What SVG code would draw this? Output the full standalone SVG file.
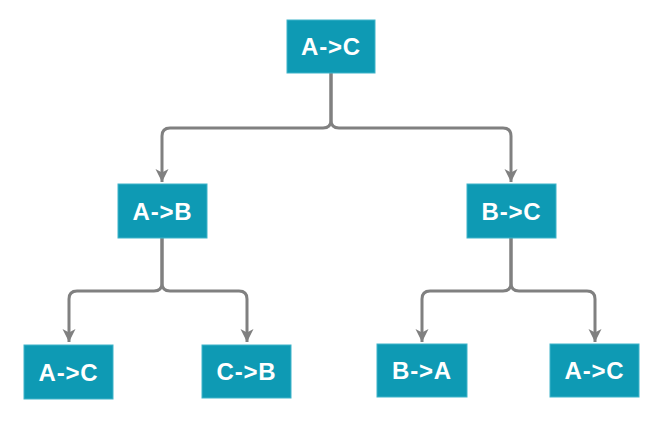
<svg xmlns="http://www.w3.org/2000/svg" width="661" height="427" viewBox="0 0 661 427">
<style>
.box{fill:#0E9AB4;stroke:#3FB4CA;stroke-width:1}
.lbl{fill:#ffffff;font-family:"Liberation Sans",Arial,sans-serif;font-weight:bold;font-size:24px;text-anchor:middle;dominant-baseline:central;letter-spacing:0.8px}
.edge{fill:none;stroke:#808080;stroke-width:3}
</style>
<defs>
<marker id="arr" viewBox="0 0 14 14" refX="13" refY="7" markerWidth="14" markerHeight="14" markerUnits="userSpaceOnUse" orient="auto">
<path d="M0,0.5 L13,7 L0,13.5 L3.5,7 Z" fill="#808080"/>
</marker>
</defs>
<rect width="661" height="427" fill="#ffffff"/>
<g id="connectors">
<path class="edge" marker-end="url(#arr)" d="M331,73 L331,120 Q331,128 323,128 L170,128 Q162,128 162,136 L162,182"/>
<path class="edge" marker-end="url(#arr)" d="M331,73 L331,120 Q331,128 339,128 L503,128 Q511,128 511,136 L511,182"/>
<path class="edge" marker-end="url(#arr)" d="M162,238 L162,283 Q162,291 154,291 L77,291 Q69,291 69,299 L69,342"/>
<path class="edge" marker-end="url(#arr)" d="M162,238 L162,283 Q162,291 170,291 L239,291 Q247,291 247,299 L247,342"/>
<path class="edge" marker-end="url(#arr)" d="M511,238 L511,283 Q511,291 503,291 L430,291 Q422,291 422,299 L422,342"/>
<path class="edge" marker-end="url(#arr)" d="M511,238 L511,283 Q511,291 519,291 L587,291 Q595,291 595,299 L595,342"/>
</g>
<g id="n1"><rect class="box" x="287" y="20" width="88" height="53"/><text class="lbl" x="331" y="46.5">A-&gt;C</text></g>
<g id="n2"><rect class="box" x="118" y="184" width="89" height="54"/><text class="lbl" x="162.5" y="211">A-&gt;B</text></g>
<g id="n3"><rect class="box" x="467" y="184" width="89" height="54"/><text class="lbl" x="511.5" y="211">B-&gt;C</text></g>
<g id="n4"><rect class="box" x="24" y="345" width="89" height="54"/><text class="lbl" x="68.5" y="372">A-&gt;C</text></g>
<g id="n5"><rect class="box" x="202" y="345" width="89" height="53"/><text class="lbl" x="246.5" y="371.5">C-&gt;B</text></g>
<g id="n6"><rect class="box" x="377" y="344" width="90" height="53"/><text class="lbl" x="422" y="370.5">B-&gt;A</text></g>
<g id="n7"><rect class="box" x="550" y="344" width="89" height="53"/><text class="lbl" x="594.5" y="370.5">A-&gt;C</text></g>
</svg>
